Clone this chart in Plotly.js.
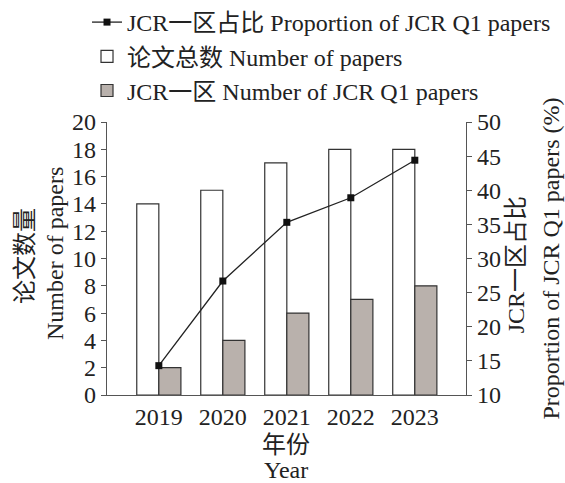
<!DOCTYPE html>
<html>
<head>
<meta charset="utf-8">
<script src="https://cdn.plot.ly/plotly-3.0.1.min.js"></script>
<style>html,body{margin:0;padding:0;background:#fff;}#chart{width:565px;height:483px;}</style>
</head>
<body>
<div id="chart"></div>
<script>
const years = ["2019", "2020", "2021", "2022", "2023"];
const totalPapers = [14, 15, 17, 18, 18];
const q1Papers = [2, 4, 6, 7, 8];
const q1Proportion = [14.3, 26.7, 35.3, 38.9, 44.4];

const FONT = "Liberation Serif, Times New Roman, Noto Sans CJK SC, serif";

const data = [
  {
    type: "scatter", mode: "lines+markers", x: years, y: q1Proportion, yaxis: "y2",
    name: "JCR一区占比 Proportion of JCR Q1 papers",
    line: {color: "#222", width: 1.3},
    marker: {symbol: "square", size: 7, color: "#111"}
  },
  {
    type: "bar", x: years, y: totalPapers, name: "论文总数 Number of papers",
    marker: {color: "#ffffff", line: {color: "#333", width: 1.2}}
  },
  {
    type: "bar", x: years, y: q1Papers, name: "JCR一区 Number of JCR Q1 papers",
    marker: {color: "#b9b1ac", line: {color: "#333", width: 1.2}}
  }
];

function title(text, x, y, angle) {
  return {text: text, xref: "paper", yref: "paper", x: x, y: y, showarrow: false,
          textangle: angle, xanchor: "center", yanchor: "middle",
          font: {family: FONT, size: 24, color: "#222"}};
}

const layout = {
  width: 565, height: 483,
  margin: {l: 107, r: 99, t: 122, b: 88, autoexpand: false},
  paper_bgcolor: "#fff", plot_bgcolor: "#fff",
  font: {family: FONT, size: 24, color: "#222"},
  barmode: "group", bargap: 0.31, bargroupgap: 0,
  showlegend: true,
  legend: {x: 0.154, xref: "container", y: 1.0, yref: "container", xanchor: "left", yanchor: "top",
           bgcolor: "rgba(0,0,0,0)",
           font: {family: FONT, size: 24, color: "#222"}, tracegroupgap: 0, itemwidth: 30,
           traceorder: "normal"},
  xaxis: {
    type: "category", range: [-0.81, 4.8], showline: true, linecolor: "#555", linewidth: 1.2,
    ticks: "", showgrid: false, zeroline: false, automargin: false,
    tickfont: {size: 24}
  },
  yaxis: {
    range: [0, 20], dtick: 2, showline: true, linecolor: "#555", linewidth: 1.2,
    ticks: "outside", ticklen: 5, tickcolor: "#555", showgrid: false, zeroline: false, automargin: false,
    tickfont: {size: 24}
  },
  yaxis2: {
    overlaying: "y", side: "right", range: [10, 50], dtick: 5,
    showline: true, linecolor: "#555", linewidth: 1.2,
    ticks: "outside", ticklen: 5, tickcolor: "#555", showgrid: false, zeroline: false, automargin: false,
    tickfont: {size: 24}
  },
  annotations: [
    title("论文数量", -0.228, 0.51, -90),
    title("Number of papers", -0.145, 0.52, -90),
    title("JCR一区占比", 1.14, 0.476, -90),
    title("Proportion of JCR Q1 papers (%)", 1.234, 0.50, -90),
    title("年份", 0.4986, -0.183, 0),
    title("Year", 0.4986, -0.275, 0)
  ]
};

Plotly.newPlot("chart", data, layout, {displayModeBar: false, staticPlot: true});
</script>
</body>
</html>
